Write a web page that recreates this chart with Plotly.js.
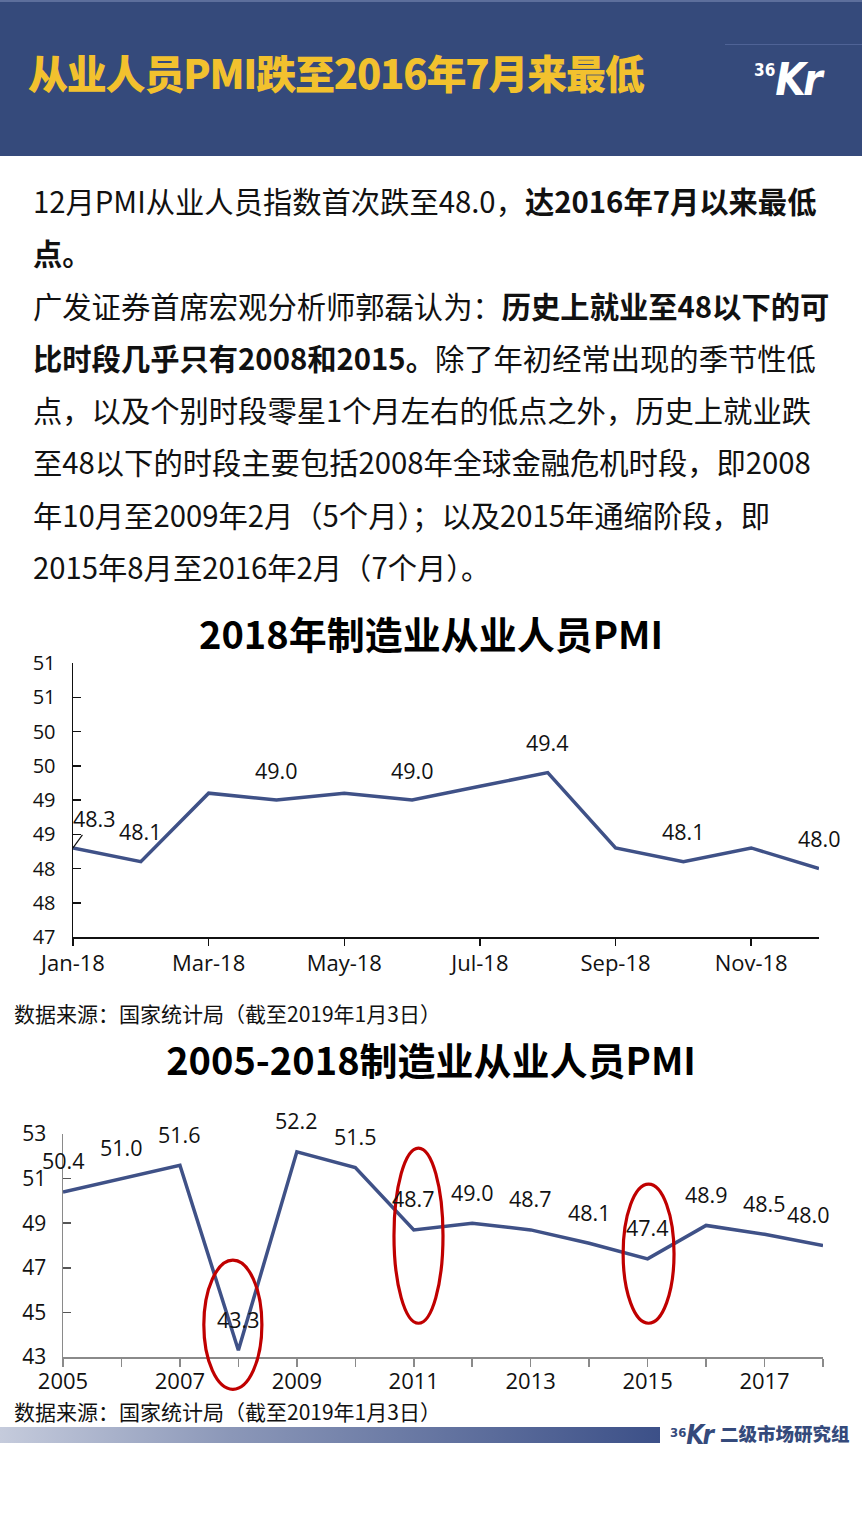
<!DOCTYPE html>
<html>
<head>
<meta charset="utf-8">
<script src="https://cdn.plot.ly/plotly-3.0.1.min.js"></script>
<style>
  html, body { margin:0; padding:0; }
  body { width:862px; height:1533px; position:relative; background:#fff; overflow:hidden; font-family:"Noto Sans CJK SC", "Noto Sans", sans-serif; }
  #header { position:absolute; left:0; top:0; width:862px; height:156px; background:#354a7b; border-top:2px solid #5d6f9c; box-sizing:border-box; }
  #hline { position:absolute; left:725px; top:44px; width:137px; height:1px; background:#4f6396; }
  #htitle { position:absolute; left:28px; top:50px; font-size:40px; line-height:44px; font-weight:900; color:#f2c12e; letter-spacing:-1.2px; white-space:nowrap; }
  #logo { position:absolute; left:754px; top:56px; color:#fff; white-space:nowrap; font-family:"DejaVu Sans Condensed","DejaVu Sans",sans-serif; font-weight:bold; }
  #logo .s { font-size:17px; vertical-align:top; position:relative; top:4px; }
  #logo .b { font-size:44px; line-height:48px; font-style:italic; letter-spacing:-3px; }
  #para { position:absolute; left:33px; top:174px; font-size:29.3px; line-height:52.3px; color:#111; white-space:nowrap; }
  #para b { font-weight:700; }
  .src { position:absolute; left:14px; font-size:21px; color:#111; white-space:nowrap; }
  #chart1 { position:absolute; left:0; top:600px; width:862px; height:390px; }
  #chart2 { position:absolute; left:0; top:1030px; width:862px; height:380px; }
  #fbar { position:absolute; left:0; top:1427px; width:660px; height:16px; background:linear-gradient(to right, #c5cbdc, #8b97b8 35%, #3c5088); }
  #flogo { position:absolute; left:670px; top:1421px; white-space:nowrap; color:#354a7b; font-weight:bold; }
  #flogo .s { font-size:13px; vertical-align:top; position:relative; top:4px; font-family:"DejaVu Sans Condensed",sans-serif; }
  #flogo .b { font-size:26px; line-height:28px; font-style:italic; letter-spacing:-2px; font-family:"DejaVu Sans Condensed",sans-serif; margin-right:8px; }
  #flogo .t { font-size:18.5px; font-family:"Noto Sans CJK SC",sans-serif; font-weight:900; position:relative; top:-3px; }
</style>
</head>
<body>
<div id="header"></div>
<div id="hline"></div>
<div id="htitle">从业人员PMI跌至2016年7月来最低</div>
<div id="logo"><span class="s">36</span><span class="b">Kr</span></div>

<div id="para">12月PMI从业人员指数首次跌至48.0，<b>达2016年7月以来最低</b><br><b>点。</b><br>广发证券首席宏观分析师郭磊认为：<b>历史上就业至48以下的可</b><br><b>比时段几乎只有2008和2015。</b>除了年初经常出现的季节性低<br>点，以及个别时段零星1个月左右的低点之外，历史上就业跌<br>至48以下的时段主要包括2008年全球金融危机时段，即2008<br>年10月至2009年2月（5个月）；以及2015年通缩阶段，即<br>2015年8月至2016年2月（7个月）。</div>

<div id="chart1"></div>
<div class="src" style="top:998px;">数据来源：国家统计局（截至2019年1月3日）</div>
<div id="chart2"></div>
<div class="src" style="top:1396px;">数据来源：国家统计局（截至2019年1月3日）</div>

<div id="fbar"></div>
<div id="flogo"><span class="s">36</span><span class="b">Kr</span><span class="t">二级市场研究组</span></div>

<script>
// ---------- data ----------
const title1 = '2018年制造业从业人员PMI';
const months = ['Jan-18','Feb-18','Mar-18','Apr-18','May-18','Jun-18','Jul-18','Aug-18','Sep-18','Oct-18','Nov-18','Dec-18'];
const pmi2018 = [48.3, 48.1, 49.1, 49.0, 49.1, 49.0, 49.2, 49.4, 48.3, 48.1, 48.3, 48.0];
const monthTicks = ['Jan-18','Mar-18','May-18','Jul-18','Sep-18','Nov-18'];
const labeledMonths = ['Jan-18','Feb-18','Apr-18','Jun-18','Aug-18','Oct-18','Dec-18'];

const title2 = '2005-2018制造业从业人员PMI';
const years = [2005, 2006, 2007, 2008, 2009, 2010, 2011, 2012, 2013, 2014, 2015, 2016, 2017, 2018];
const pmiAnnual = [50.4, 51.0, 51.6, 43.3, 52.2, 51.5, 48.7, 49.0, 48.7, 48.1, 47.4, 48.9, 48.5, 48.0];

// ---------- styles ----------
const LINE = '#3f5187';
const NUMFONT = '"Open Sans", "Noto Sans", sans-serif';
const TITLEFONT = '"Noto Sans CJK SC", sans-serif';

// ---------- chart 1 ----------
const ann1 = labeledMonths.map(m => {
  const i = months.indexOf(m);
  const a = { x: m, y: pmi2018[i], text: pmi2018[i].toFixed(1), xref: 'x', yref: 'y',
              font: { family: NUMFONT, size: 21.5, color: '#111' } };
  if (i === 0) {
    Object.assign(a, { showarrow: true, ax: 21, ay: -29, arrowhead: 0, arrowwidth: 1.2, arrowcolor: '#111', standoff: 0, startstandoff: 0 });
  } else {
    Object.assign(a, { showarrow: false, xanchor: 'center', yanchor: 'middle', yshift: 30 });
  }
  return a;
});

Plotly.newPlot('chart1', [{
  type: 'scatter', mode: 'lines', x: months, y: pmi2018,
  line: { color: LINE, width: 3.5 }, hoverinfo: 'skip', cliponaxis: false
}], {
  width: 862, height: 390,
  margin: { l: 73, r: 43, t: 63, b: 53 },
  paper_bgcolor: '#fff', plot_bgcolor: '#fff',
  showlegend: false,
  title: { text: title1, x: 0.5, xanchor: 'center', xref: 'container', y: 0.908, yref: 'container', yanchor: 'middle',
           font: { family: TITLEFONT, size: 38, color: '#000', weight: 700 } },
  xaxis: {
    type: 'category', range: [0, 11], tickvals: monthTicks,
    showline: true, linecolor: '#111', linewidth: 1.5,
    ticks: 'outside', ticklen: 7, tickwidth: 1.5, tickcolor: '#111',
    showgrid: false, zeroline: false, ticklabelstandoff: -1,
    tickfont: { family: NUMFONT, size: 22, color: '#111' }
  },
  yaxis: {
    range: [47, 51], dtick: 0.5, tick0: 47, tickformat: '.0f',
    showline: true, linecolor: '#111', linewidth: 1.5,
    ticks: 'inside', ticklen: 8, tickwidth: 1.5, tickcolor: '#111',
    showgrid: false, zeroline: false, ticklabelstandoff: 12,
    tickfont: { family: NUMFONT, size: 20, color: '#111' }
  },
  annotations: ann1
}, { displayModeBar: false, staticPlot: true });

// ---------- chart 2 ----------
const ann2 = years.map((yr, i) => ({
  x: yr, y: pmiAnnual[i], text: pmiAnnual[i].toFixed(1), xref: 'x', yref: 'y',
  showarrow: false, xanchor: 'center', yanchor: 'middle', yshift: 31,
  xshift: i === years.length - 1 ? -15 : 0,
  font: { family: NUMFONT, size: 21.5, color: '#111' }
}));

const RED = '#c00000';
const ellipse = (x0, x1, y0, y1) => ({ type: 'circle', xref: 'paper', yref: 'paper', x0, x1, y0, y1,
  line: { color: RED, width: 3.2 }, fillcolor: 'rgba(0,0,0,0)', layer: 'above' });

Plotly.newPlot('chart2', [{
  type: 'scatter', mode: 'lines', x: years, y: pmiAnnual,
  line: { color: LINE, width: 3.5 }, hoverinfo: 'skip', cliponaxis: false
}], {
  width: 862, height: 380,
  margin: { l: 63, r: 39, t: 104, b: 53 },
  paper_bgcolor: '#fff', plot_bgcolor: '#fff',
  showlegend: false,
  title: { text: title2, x: 0.5, xanchor: 'center', xref: 'container', y: 0.916, yref: 'container', yanchor: 'middle',
           font: { family: TITLEFONT, size: 38, color: '#000', weight: 700 } },
  xaxis: {
    range: [2005, 2018], dtick: 2, tick0: 2005,
    showline: true, linecolor: '#8a8a8a', linewidth: 1.5,
    ticks: 'outside', ticklen: 8, tickwidth: 1.5, tickcolor: '#8a8a8a',
    minor: { dtick: 1, tick0: 2005, ticks: 'outside', ticklen: 8, tickwidth: 1.5, tickcolor: '#8a8a8a', showgrid: false },
    showgrid: false, zeroline: false, ticklabelstandoff: -4,
    tickfont: { family: NUMFONT, size: 22, color: '#111' }
  },
  yaxis: {
    range: [43, 53], dtick: 2, tick0: 43,
    showline: true, linecolor: '#8a8a8a', linewidth: 1.5,
    ticks: 'inside', ticklen: 8, tickwidth: 1.5, tickcolor: '#555',
    showgrid: false, zeroline: false, ticklabelstandoff: 11,
    tickfont: { family: NUMFONT, size: 21, color: '#111' }
  },
  annotations: ann2,
  shapes: [
    ellipse(0.1853, 0.2617, -0.145, 0.434),
    ellipse(0.4355, 0.5000, 0.1513, 0.9371),
    ellipse(0.7370, 0.8040, 0.1513, 0.7755)
  ]
}, { displayModeBar: false, staticPlot: true });
</script>
</body>
</html>
